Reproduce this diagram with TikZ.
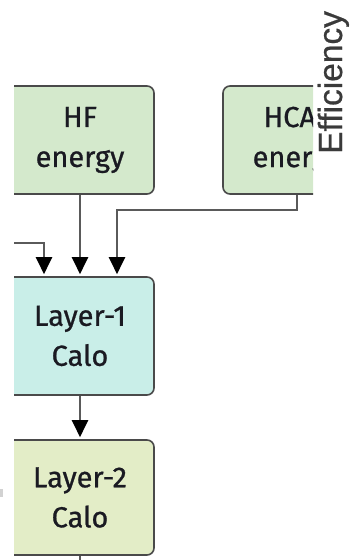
\documentclass[tikz,border=0pt]{standalone}
\usepackage{fontspec}
\setmainfont{Fira Sans}
\newfontfamily\boxfont{Fira Sans}[FakeBold=0.8]
\newfontfamily\efffont[Ligatures=NoCommon,FakeBold=0.6]{Liberation Sans}
\usetikzlibrary{arrows.meta}
\definecolor{hfgreen}{HTML}{D4E9CC}
\definecolor{lonecyan}{HTML}{C9EEE8}
\definecolor{ltwo}{HTML}{E3EDC7}
\definecolor{boxborder}{HTML}{4A4A4A}
\definecolor{linegray}{HTML}{5A5A5A}
\definecolor{textcol}{HTML}{1A1A22}
\definecolor{effgray}{HTML}{3A3A3A}
\tikzset{
  box/.style={draw=boxborder, line width=1.6bp, rounded corners=7bp,
    minimum width=148bp, align=center, text=textcol, inner sep=0pt,
    font=\boxfont\fontsize{29bp}{40bp}\selectfont},
  conn/.style={draw=linegray, line width=2.2bp,
    -{Triangle[width=16bp,length=17bp,color=black]}, shorten >=2bp},
  plainline/.style={draw=linegray, line width=2.2bp}
}
\begin{document}
\begin{tikzpicture}[x=1bp,y=-1bp]
\useasboundingbox (0,0) rectangle (349,560);
\begin{scope}
  \clip (14,0) rectangle (313,560);
  \node[box, fill=hfgreen, minimum height=108bp] (hf) at (80,140) {HF\\energy};
  \node[box, fill=hfgreen, minimum height=108bp] (hcal) at (297,140) {HCAL\\energy};
  \node[box, fill=lonecyan, minimum height=118bp] (l1) at (80,336) {Layer-1\\Calo};
  \node[box, fill=ltwo, minimum height=115bp] (l2) at (80,497.5) {Layer-2\\Calo};
\end{scope}
\coordinate (lin) at (14,243);
\coordinate (lout) at (80,560);
\draw[conn] (hf) -- (l1);
\draw[conn] (hcal.south) -- ++(0,15) -| ([xshift=37bp]l1.north);
\draw[conn] (lin) -| ([xshift=-36bp]l1.north);
\draw[conn] (l1) -- (l2);
\draw[plainline] (l2.south) -- (lout);
\fill[gray!35] (0,489) rectangle (3,497);
\node[rotate=90, anchor=base west, inner sep=0pt, text=effgray,
  font=\efffont\fontsize{33.5bp}{40bp}\selectfont] (eff) at (342,154) {Efficiency};
\end{tikzpicture}
\end{document}
